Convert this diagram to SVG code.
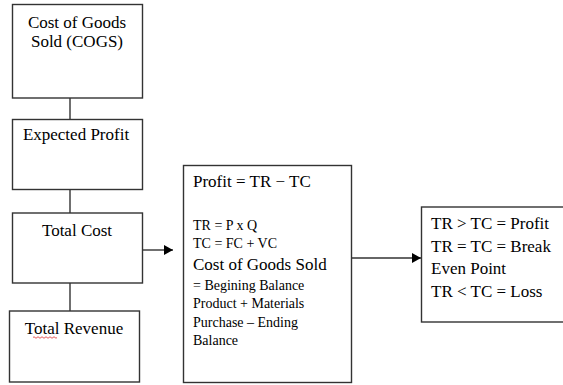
<svg xmlns="http://www.w3.org/2000/svg" width="563" height="385" viewBox="0 0 563 385">
<defs>
<marker id="arr" markerWidth="9" markerHeight="10" refX="9" refY="5" orient="auto" markerUnits="userSpaceOnUse">
<path d="M0,0 L9,5 L0,10 Z" fill="#000"/>
</marker>
<style>
.box{fill:#fff;stroke:#333;stroke-width:1.4}
.ln{fill:none;stroke:#333;stroke-width:1.4}
text{font-family:"Liberation Serif","Times New Roman",serif;fill:#000}
.t17{font-size:17px}
.t14{font-size:14px}
.c{text-anchor:middle}
</style>
</defs>
<rect width="563" height="385" fill="#fff"/>
<g id="connectors">
<line class="ln" x1="70" y1="98" x2="70" y2="119"/>
<line class="ln" x1="70" y1="189" x2="70" y2="213"/>
<line class="ln" x1="70" y1="283" x2="70" y2="311"/>
<line class="ln" x1="142" y1="250" x2="173" y2="250" marker-end="url(#arr)"/>
<line class="ln" x1="352" y1="258" x2="421" y2="258" marker-end="url(#arr)"/>
</g>
<g id="cogs">
<rect class="box" x="12.5" y="4.5" width="130" height="93.5"/>
<text class="t17 c" x="77" y="28">Cost of Goods</text>
<text class="t17 c" x="77" y="47">Sold (COGS)</text>
</g>
<g id="expected-profit">
<rect class="box" x="12.5" y="119.5" width="130" height="70"/>
<text class="t17 c" x="76" y="140">Expected Profit</text>
</g>
<g id="total-cost">
<rect class="box" x="12.5" y="213" width="130" height="70"/>
<text class="t17 c" x="77" y="236">Total Cost</text>
</g>
<g id="total-revenue">
<rect class="box" x="9.5" y="311" width="130" height="71"/>
<text class="t17 c" x="74" y="334">Total Revenue</text>
<path d="M33,337.5 q1,-1.5 2,0 t2,0 t2,0 t2,0 t2,0 t2,0 t2,0 t2,0 t2,0 t2,0 t2,0 t2,0" fill="none" stroke="#e03030" stroke-width="0.8"/>
</g>
<g id="formulas">
<rect class="box" x="183.5" y="165.5" width="168" height="217"/>
<text class="t17" x="193" y="187">Profit = TR − TC</text>
<text class="t14" x="193" y="230">TR = P x Q</text>
<text class="t14" x="193" y="248">TC = FC + VC</text>
<text class="t17" x="193" y="270">Cost of Goods Sold</text>
<text class="t14" x="193" y="290">= Begining Balance</text>
<text class="t14" x="193" y="308">Product + Materials</text>
<text class="t14" x="193" y="327">Purchase  – Ending</text>
<text class="t14" x="193" y="345">Balance</text>
</g>
<g id="conditions">
<rect class="box" x="421.5" y="207" width="150" height="115"/>
<text class="t17" x="431" y="229">TR &gt; TC = Profit</text>
<text class="t17" x="431" y="252">TR = TC = Break</text>
<text class="t17" x="431" y="274">Even Point</text>
<text class="t17" x="431" y="297">TR &lt; TC = Loss</text>
</g>
</svg>
